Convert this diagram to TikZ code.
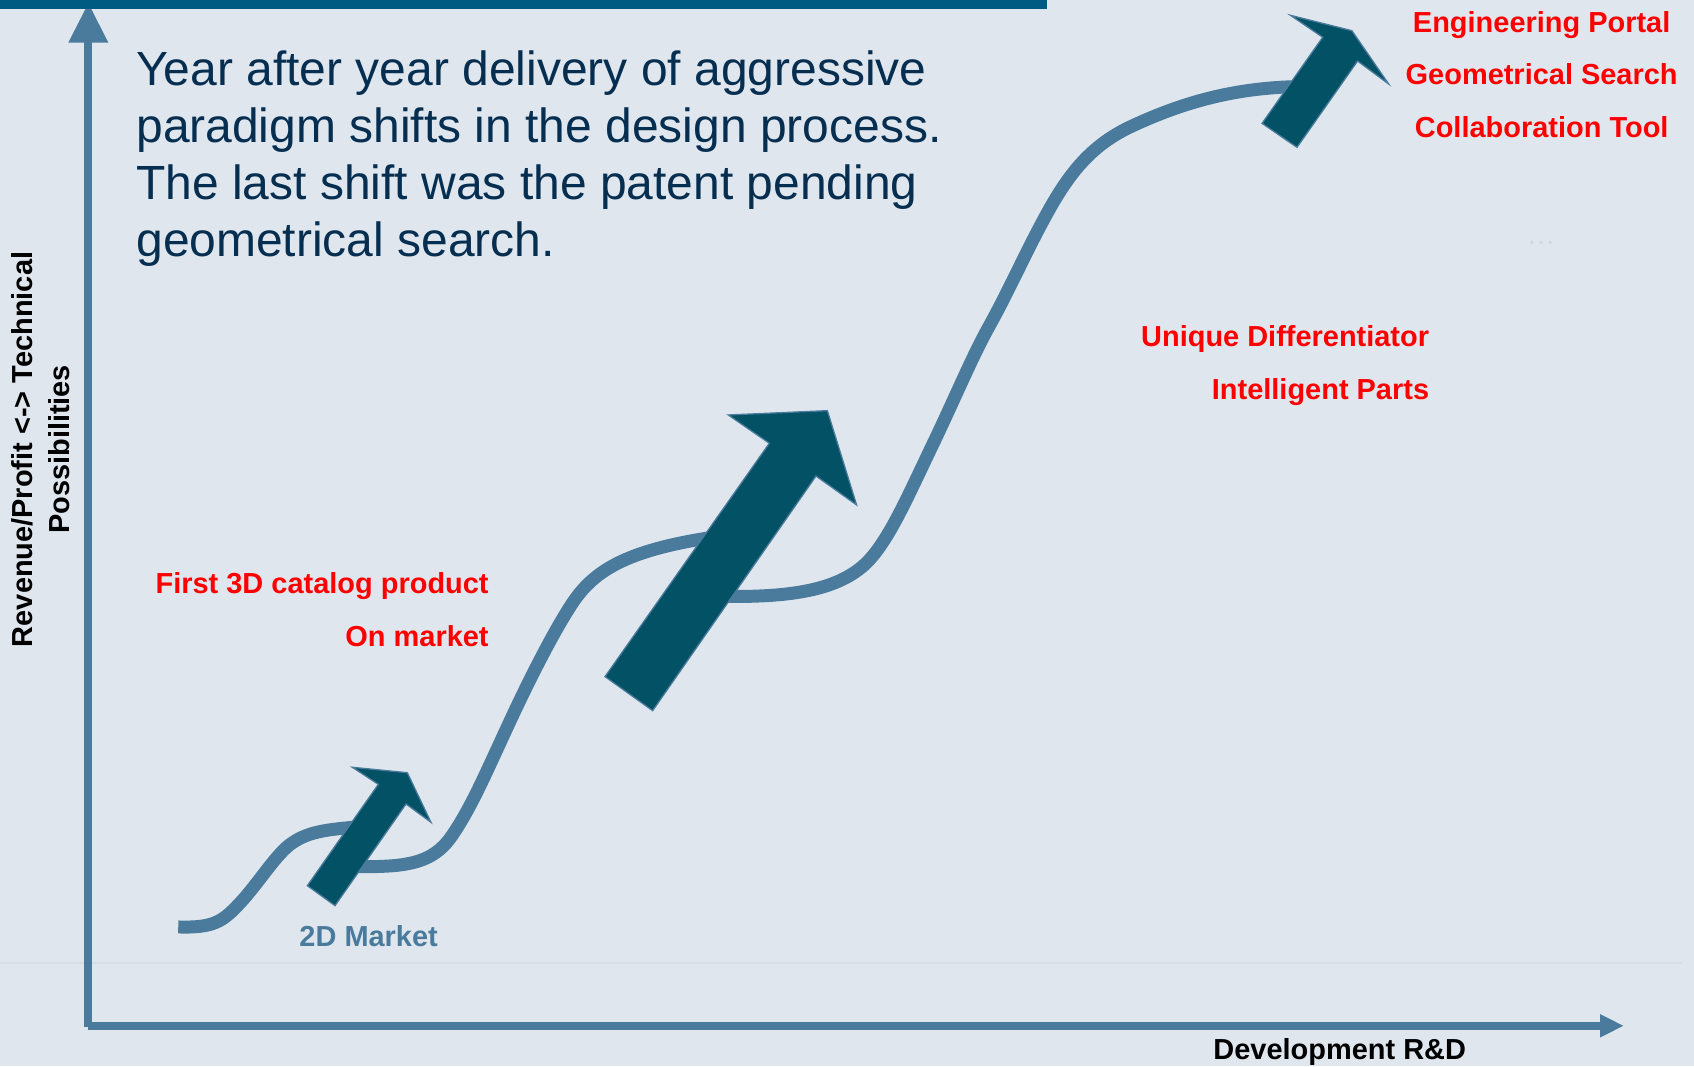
\documentclass[tikz,border=0pt]{standalone}
\usepackage{fontspec}
\setmainfont{Liberation Sans}
\definecolor{bgcol}{RGB}{223,230,237}
\definecolor{barcol}{RGB}{0,91,130}
\definecolor{axisblue}{RGB}{74,123,157}
\definecolor{arrowfill}{RGB}{2,81,101}
\definecolor{titlecol}{RGB}{6,46,80}
\definecolor{labelred}{RGB}{255,0,0}
\definecolor{faintline}{RGB}{213,222,225}
\definecolor{faintdots}{RGB}{208,217,223}
\begin{document}
\begin{tikzpicture}[x=1pt,y=-1pt,
  lbl/.style={inner sep=0pt, font=\fontsize{26.8}{33}\selectfont\bfseries},
  redlbl/.style={lbl, text=labelred},
  titleline/.style={inner sep=0pt, anchor=base west, text=titlecol, font=\fontsize{44.4}{52.5}\selectfont},
  shiftarrow/.style={fill=arrowfill, draw=axisblue, line width=1.2pt, line join=miter},
  curveline/.style={draw=axisblue, line width=12pt, line cap=butt},
  axisline/.style={draw=axisblue, line width=7.4pt, line cap=butt},
  axishead/.style={fill=axisblue, draw=none}]
% canvas
\fill[bgcol] (0,0) rectangle (1568,987);
\useasboundingbox (0,0) rectangle (1568,987);
% faint separator line
\draw[faintline, line width=1.5pt] (0,891.6) -- (1556.5,891.6);
% growth curve (hidden loops lie under the block arrows)
\draw[curveline]
  (165,858) .. controls (198,859) and (206,853) .. (222,836)
  .. controls (238,819) and (254,793) .. (268,782)
  .. controls (284,770) and (300,768) .. (335,765)
  .. controls (350,765) and (310,802) .. (325,802)
  .. controls (375,803) and (400,800) .. (418,774)
  .. controls (436,748) and (450,715) .. (470,672)
  .. controls (488,633) and (512,585) .. (530,558)
  .. controls (550,528) and (580,510) .. (655,498)
  .. controls (690,496) and (640,552) .. (668,552)
  .. controls (730,553) and (775,547) .. (802,521)
  .. controls (823,500) and (840,460) .. (865,408)
  .. controls (885,366) and (900,330) .. (915,303)
  .. controls (935,267) and (950,232) .. (970,196)
  .. controls (990,160) and (1010,135) .. (1045,118)
  .. controls (1100,92) and (1150,80) .. (1212,80);
% block arrows
\filldraw[shiftarrow] (284.5,819.8) -- (310.1,838.3) -- (375.8,744.2) -- (398.9,761.1)
  -- (377,715.2) -- (326.1,710.2) -- (350.2,726) -- cycle;
\filldraw[shiftarrow] (560,626.3) -- (604.1,657.8) -- (755.3,440.6) -- (792.9,467.4)
  -- (765.8,380.1) -- (674.1,384.1) -- (712.1,410.3) -- cycle;
\filldraw[shiftarrow] (1168.2,114.2) -- (1200.5,136.4) -- (1256.6,56.5) -- (1285.3,77.7)
  -- (1251.3,28.4) -- (1194.5,14.2) -- (1224.3,34.5) -- cycle;
% axes
\draw[axisline] (81.8,951) -- (81.8,39);
\fill[axishead] (81.8,3.1) -- (100.3,39.5) -- (63.2,39.5) -- cycle;
\draw[axisline] (81.8,949.5) -- (1481.5,949.5);
\fill[axishead] (1481,938.6) -- (1502.5,949.5) -- (1481,960.4) -- cycle;
% top bar
\fill[barcol] (0,0) rectangle (969,8.6);
% title
\node[titleline] (t1) at (126,79.5) {Year after year delivery of aggressive};
\node[titleline] (t2) at (126,132) {paradigm shifts in the design process.};
\node[titleline] (t3) at (126,184.5) {The last shift was the patent pending};
\node[titleline] (t4) at (126,237) {geometrical search.};
% axis labels
\node[lbl, rotate=90, anchor=base] (ylab1) at (30.5,416) {Revenue/Profit <-> Technical};
\node[lbl, rotate=90, anchor=base] (ylab2) at (64.5,416) {Possibilities};
\node[lbl, anchor=base west] (xlab) at (1123,980.5) {Development R\&D};
% milestone labels
\node[lbl, anchor=base west, text=axisblue] (m2d) at (277,876) {2D Market};
\node[redlbl, anchor=base east] (m3da) at (452.5,549) {First 3D catalog product};
\node[redlbl, anchor=base east] (m3db) at (452.5,598) {On market};
\node[redlbl, anchor=base east] (udiff) at (1323,321) {Unique Differentiator};
\node[redlbl, anchor=base east] (iparts) at (1323,370) {Intelligent Parts};
\node[redlbl, anchor=base] (eport) at (1427,30) {Engineering Portal};
\node[redlbl, anchor=base] (gsearch) at (1427,78.5) {Geometrical Search};
\node[redlbl, anchor=base] (ctool) at (1427,127) {Collaboration Tool};
\node[inner sep=0pt, anchor=base, text=faintdots, font=\fontsize{26.8}{33}\selectfont] (dots) at (1426.5,226) {…};
\end{tikzpicture}
\end{document}
